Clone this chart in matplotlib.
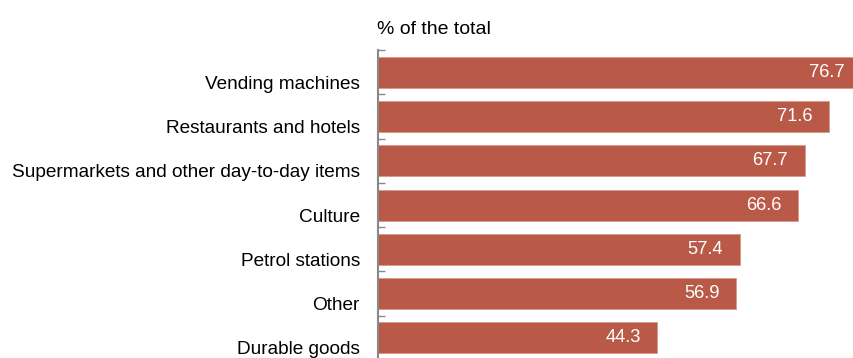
import matplotlib.pyplot as plt
import matplotlib.transforms as mtransforms
import numpy as np

categories = ["Vending machines", "Restaurants and hotels",
              "Supermarkets and other day-to-day items", "Culture",
              "Petrol stations", "Other", "Durable goods"]
values = [76.7, 71.6, 67.7, 66.6, 57.4, 56.9, 44.3]

plt.rcParams["font.family"] = ["Liberation Sans", "DejaVu Sans"]

fig = plt.figure(figsize=(8.54, 3.58), dpi=100)
# axes from x=378px to right edge, y=50px (top) down past the bottom edge
ax = fig.add_axes([378 / 854, -2 / 358, 476 / 854, 310 / 358])

y = np.arange(len(categories))
ax.barh(y, values, height=0.7, color="#B95A48", edgecolor="#D89A8C",
        linewidth=0.6, zorder=2)
ax.set_ylim(len(categories) - 0.5, -0.5)
ax.set_xlim(0, 476 / 6.30)

for yi, v in zip(y, values):
    ax.text(v - 2.6, yi, f"{v:.1f}", color="white", ha="right",
            va="center", fontsize=13.2)

# category labels, sitting a little below the bar centres
for yi, c in zip(y, categories):
    off = mtransforms.ScaledTranslation(-18 / 100, -12 / 100, fig.dpi_scale_trans)
    ax.text(0, yi, c, ha="right", va="center", fontsize=13.7,
            transform=ax.transData + off)

ax.set_yticks(np.arange(len(categories)) - 0.5)
ax.set_yticklabels([])
ax.tick_params(axis="y", direction="in", length=5, width=1, color="#888888")
ax.set_xticks([])
for s in ["top", "right", "bottom"]:
    ax.spines[s].set_visible(False)
ax.spines["left"].set_color("#888888")
ax.spines["left"].set_linewidth(1.5)

fig.text(377 / 854, 1 - 30 / 358, "% of the total", ha="left", va="center",
         fontsize=14)

fig.savefig("out.png", dpi=100)
